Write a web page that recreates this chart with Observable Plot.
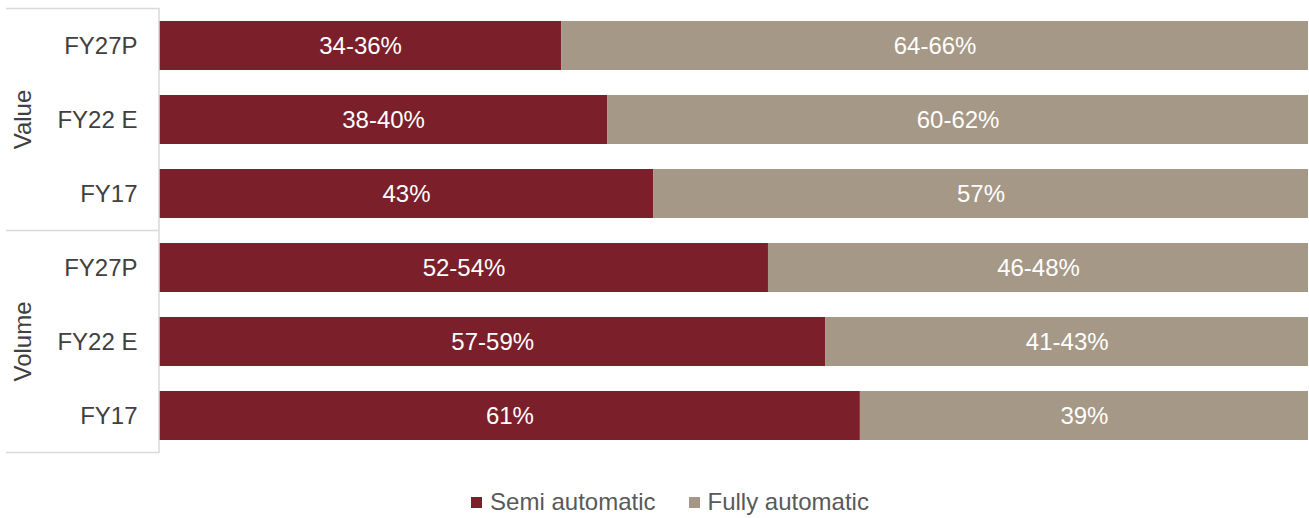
<!DOCTYPE html>
<html>
<head>
<meta charset="utf-8">
<script src="https://cdn.jsdelivr.net/npm/d3@7"></script>
<script src="https://cdn.jsdelivr.net/npm/@observablehq/plot@0.6"></script>
<style>
  html, body { margin: 0; padding: 0; background: #fff; }
  body { width: 1309px; height: 518px; overflow: hidden; font-family: "Liberation Sans", Arial, sans-serif; }
  #legend { display: flex; justify-content: center; align-items: center; gap: 33px; margin-top: 18px; padding-left: 31px; font-size: 24px; color: #595959; }
  #legend .item { display: flex; align-items: center; gap: 8px; }
  #legend .sw { width: 11px; height: 11px; display: inline-block; }
</style>
</head>
<body>
<div id="chart"></div>
<div id="legend"></div>
<script>
const groups = ["Value", "Value", "Value", "Volume", "Volume", "Volume"];
const periods = ["FY27P", "FY22 E", "FY17", "FY27P", "FY22 E", "FY17"];
const semiValues = [35, 39, 43, 53, 58, 61];
const fullyValues = [65, 61, 57, 47, 42, 39];
const semiLabels = ["34-36%", "38-40%", "43%", "52-54%", "57-59%", "61%"];
const fullyLabels = ["64-66%", "60-62%", "57%", "46-48%", "41-43%", "39%"];
const seriesNames = ["Semi automatic", "Fully automatic"];
const seriesColors = ["#7B1F2A", "#A69886"];

const rows = [];
groups.forEach((g, i) => {
  const key = g + "|" + periods[i];
  rows.push({key, series: seriesNames[0], value: semiValues[i], label: semiLabels[i]});
  rows.push({key, series: seriesNames[1], value: fullyValues[i], label: fullyLabels[i]});
});
const keys = groups.map((g, i) => g + "|" + periods[i]);

const chart = Plot.plot({
  width: 1309,
  height: 470,
  marginTop: 8,
  marginBottom: 17,
  marginLeft: 159,
  marginRight: 1,
  style: {fontFamily: "'Liberation Sans', Arial, sans-serif", fontSize: "24px", color: "#404040", background: "#fff"},
  x: {domain: [0, 100], axis: null},
  y: {domain: keys, paddingInner: 0.34, paddingOuter: 0.17, label: null},
  color: {domain: seriesNames, range: seriesColors},
  marks: [
    Plot.barX(rows, Plot.stackX({y: "key", x: "value", fill: "series", order: seriesNames})),
    Plot.text(rows, Plot.stackX({y: "key", x: "value", z: "series", order: seriesNames, text: "label", fill: "white", fontSize: 24})),
    Plot.axisY({tickSize: 0, tickPadding: 22, tickFormat: d => d.split("|")[1], fontSize: 24, fill: "#404040"})
  ]
});
document.getElementById("chart").appendChild(chart);

// Group labels and separators, positioned with the Plot y scale
const y = chart.scale("y");
const svg = d3.select(chart);
const step = y.step;
const groupNames = Array.from(new Set(groups));
const bounds = [];
groupNames.forEach(g => {
  const ks = keys.filter(k => k.startsWith(g + "|"));
  const top = y.apply(ks[0]) - (step - y.bandwidth) / 2;
  const bottom = y.apply(ks[ks.length - 1]) + y.bandwidth + (step - y.bandwidth) / 2;
  bounds.push(top, bottom);
  svg.append("text")
    .attr("transform", `translate(22,${(top + bottom) / 2}) rotate(-90)`)
    .attr("text-anchor", "middle")
    .attr("dominant-baseline", "central")
    .attr("font-size", 24)
    .attr("fill", "#404040")
    .text(g);
});
Array.from(new Set(bounds.map(b => Math.round(b * 2) / 2))).forEach(b => {
  svg.append("line")
    .attr("x1", 6).attr("x2", 159)
    .attr("y1", b).attr("y2", b)
    .attr("stroke", "#d9d9d9").attr("stroke-width", 1.5);
});
const [r0, r1] = y.range;
svg.append("line").attr("x1", 159).attr("x2", 159).attr("y1", r0).attr("y2", r1)
  .attr("stroke", "#d9d9d9").attr("stroke-width", 1.5);

const legend = document.getElementById("legend");
seriesNames.forEach((s, i) => {
  const item = document.createElement("div");
  item.className = "item";
  item.innerHTML = `<span class="sw" style="background:${seriesColors[i]}"></span><span>${s}</span>`;
  legend.appendChild(item);
});
</script>
</body>
</html>
